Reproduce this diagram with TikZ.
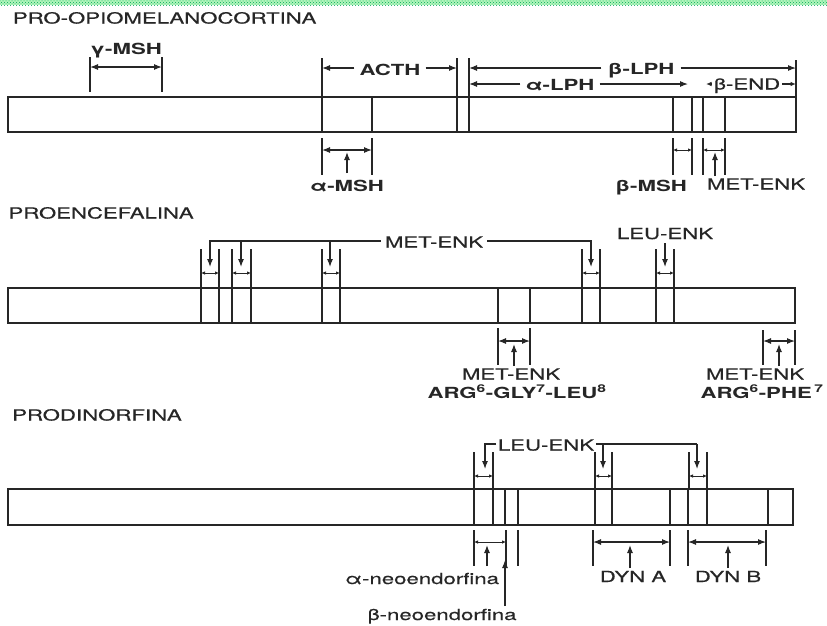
\documentclass[tikz,border=0pt]{standalone}
\usepackage{fontspec}
\setmainfont{TeX Gyre Heros}[FakeStretch=1.45, UprightFeatures={FakeBold=0.4}]
\usetikzlibrary{arrows.meta,patterns}
\begin{document}
\begin{tikzpicture}[x=1pt,y=-1pt,
  bar/.style={draw=black!85,line width=1.5pt},
  sep/.style={draw=black!85,line width=1.4pt},
  tick/.style={draw=black!85,line width=1.3pt},
  lab/.style={font=\fontsize{15.3}{18}\selectfont, inner sep=1.5pt, text=black!85, text height=11pt, text depth=0pt},
  blab/.style={lab, font=\fontsize{15.3}{18}\selectfont\bfseries},
  ttl/.style={lab, anchor=west, inner sep=0pt},
  arr/.style={draw=black!85,line width=1.1pt,-{Latex[length=8pt,width=6pt]}},
  sarr/.style={draw=black!85,line width=1.1pt,-{Latex[length=5.5pt,width=4.5pt]}},
  dbl/.style={draw=black!85,line width=1.1pt,{Latex[length=8pt,width=6pt]}-{Latex[length=8pt,width=6pt]}},
  sdbl/.style={draw=black!85,line width=1pt,{Latex[length=4pt,width=3.5pt]}-{Latex[length=4pt,width=3.5pt]}},
  brk/.style={draw=black!85,line width=1.1pt},
]
\useasboundingbox (0,0) rectangle (827,625);
\fill[white] (0,0) rectangle (827,625);
\fill[teal!25!green!30!white] (0,0) rectangle (827,5);
\fill[pattern=crosshatch dots, pattern color=teal!70!green] (0,0) rectangle (827,5);

% ================= PRO-OPIOMELANOCORTINA =================
\node[ttl] (t1) at (12.7,18) {PRO-OPIOMELANOCORTINA};
\draw[bar] (8,97) rectangle (796,132);
\foreach \x in {322,372,457,469,673,692,703,725} \draw[sep] (\x,97) -- (\x,132);

% gamma-MSH
\draw[tick] (90,57) -- (90,92);
\draw[tick] (162,57) -- (162,92);
\draw[dbl] (90,67) -- (162,67);
\node[blab] (gmsh) at (126,49) {γ-MSH};

% ACTH
\draw[tick] (322,58) -- (322,96);
\draw[tick] (457,58) -- (457,96);
\draw[tick] (469,58) -- (469,96);
\node[blab, inner sep=5pt] (acth) at (390,70) {ACTH};
\coordinate (acthL) at (322,68);
\coordinate (acthR) at (457,68);
\draw[arr] (acth.west |- acthL) -- (acthL);
\draw[arr] (acth.east |- acthR) -- (acthR);

% beta-LPH
\draw[tick] (796,60) -- (796,96);
\node[blab, inner sep=6pt] (blph) at (641,69) {β-LPH};
\coordinate (blphL) at (469,68);
\coordinate (blphR) at (796,68);
\draw[arr] (blph.west |- blphL) -- (blphL);
\draw[arr] (blph.east |- blphR) -- (blphR);

% alpha-LPH
\node[blab, inner sep=5pt] (alph) at (560,85) {α-LPH};
\coordinate (alphL) at (469,84);
\coordinate (alphR) at (688,84);
\draw[arr] (alph.west |- alphL) -- (alphL);
\draw[arr] (alph.east |- alphR) -- (alphR);

% beta-END
\node[lab, inner sep=2pt] (bend) at (747,84) {β-END};
\coordinate (bendL) at (706,84);
\coordinate (bendR) at (796,84);
\draw[sarr] (bend.west |- bendL) -- (bendL);
\draw[sarr] (bend.east |- bendR) -- (bendR);

% alpha-MSH
\draw[tick] (322,138) -- (322,175);
\draw[tick] (372,138) -- (372,175);
\draw[dbl] (322,150) -- (372,150);
\node[blab] (amsh) at (347,185.5) {α-MSH};
\draw[arr] (347,173) -- (347,152);

% beta-MSH
\draw[tick] (673,138) -- (673,175);
\draw[tick] (692,138) -- (692,175);
\draw[sdbl] (673,150) -- (692,150);
\node[blab] (bmsh) at (651,186) {β-MSH};

% MET-ENK
\draw[tick] (703,138) -- (703,175);
\draw[tick] (725,138) -- (725,175);
\draw[sdbl] (703,150) -- (725,150);
\node[lab] (me1) at (756,184) {MET-ENK};
\draw[arr] (715,176) -- (715,152);

% ================= PROENCEFALINA =================
\node[ttl] (t2) at (8.3,213) {PROENCEFALINA};
\draw[bar] (8,288) rectangle (795,323);
\foreach \x in {201,219,232,251,322,340,498,530,582,600,656,674} \draw[sep] (\x,288) -- (\x,323);

\foreach \a/\b in {201/219,232/251,322/340,582/600,656/674}{
  \draw[tick] (\a,249) -- (\a,287);
  \draw[tick] (\b,249) -- (\b,287);
  \draw[sdbl] (\a,273) -- (\b,273);
}
\node[lab, inner sep=4pt] (me2) at (434,242) {MET-ENK};
\coordinate (me2a) at (210,241);
\coordinate (me2d) at (591,241);
\draw[arr] (me2.west |- me2a) -- (me2a) -- (210,267);
\draw[arr] (241,241) -- (241,267);
\draw[arr] (330,241) -- (330,267);
\draw[arr] (me2.east |- me2d) -- (me2d) -- (591,267);

\node[lab] (le2) at (665,233.5) {LEU-ENK};
\coordinate (le2t) at (665,243);
\draw[arr] (le2t) -- (665,267);

% lower
\draw[tick] (498,328) -- (498,365);
\draw[tick] (530,328) -- (530,365);
\draw[dbl] (498,341) -- (530,341);
\draw[arr] (514,366) -- (514,344);
\node[lab] (me3) at (511,374) {MET-ENK};
\node[blab] (arg1) at (517,392.5) {ARG\textsuperscript{6}-GLY\textsuperscript{7}-LEU\textsuperscript{8}};

\draw[tick] (763,330) -- (763,365);
\draw[tick] (795,330) -- (795,365);
\draw[dbl] (763,341) -- (795,341);
\draw[arr] (779,366) -- (779,344);
\node[lab] (me4) at (755,374) {MET-ENK};
\node[blab] (arg2) at (762,392.5) {ARG\textsuperscript{6}-PHE\,\textsuperscript{7}};

% ================= PRODINORFINA =================
\node[ttl] (t3) at (12,415) {PRODINORFINA};
\draw[bar] (8,489) rectangle (793,525);
\foreach \x in {474,493,505,518,595,612,670,688,707,768} \draw[sep] (\x,489) -- (\x,525);

\foreach \a/\b in {474/493,595/612,689/707}{
  \draw[tick] (\a,452) -- (\a,488);
  \draw[tick] (\b,452) -- (\b,488);
  \draw[sdbl] (\a,476) -- (\b,476);
}
\node[lab] (le3) at (546,445) {LEU-ENK};
\coordinate (le3a) at (485,444);
\coordinate (le3b) at (697,444);
\draw[arr] (le3.west |- le3a) -- (le3a) -- (485,469);
\draw[brk] (le3.east |- le3b) -- (le3b);
\draw[arr] (603,444) -- (603,469);
\draw[arr] (le3b) -- (697,469);

% neoendorfinas
\draw[tick] (474,530) -- (474,566);
\draw[tick] (506,530) -- (506,566);
\draw[tick] (518,530) -- (518,566);
\draw[sdbl] (474,542) -- (506,542);
\draw[arr] (487,566) -- (487,545);
\node[lab] (aneo) at (422,578.5) {α-neoendorfina};
\draw[arr] (505,606) -- (505,560);
\node[lab] (bneo) at (442,614.5) {β-neoendorfina};

% DYN A
\draw[tick] (593,530) -- (593,566);
\draw[tick] (670,530) -- (670,566);
\draw[dbl] (593,542) -- (670,542);
\draw[arr] (630,568) -- (630,545);
\node[lab] (dyna) at (633,576.5) {DYN A};

% DYN B
\draw[tick] (688,530) -- (688,566);
\draw[tick] (766,530) -- (766,566);
\draw[dbl] (688,542) -- (766,542);
\draw[arr] (728,568) -- (728,545);
\node[lab] (dynb) at (728,576.5) {DYN B};
\end{tikzpicture}
\end{document}
